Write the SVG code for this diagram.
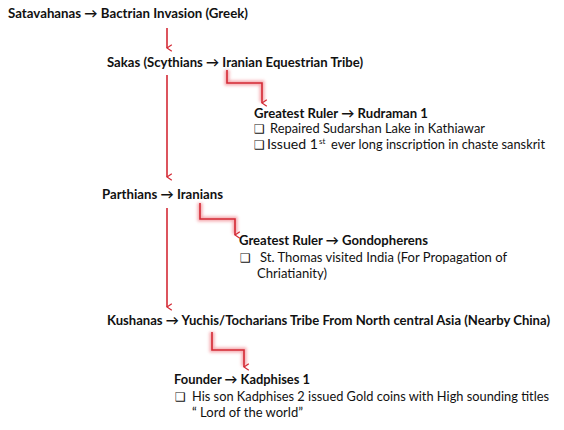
<svg xmlns="http://www.w3.org/2000/svg" width="564" height="430" viewBox="0 0 564 430">
<defs>
<marker id="ah" viewBox="0 0 10 10" refX="5" refY="9" markerWidth="8" markerHeight="8" markerUnits="userSpaceOnUse" orient="auto-start-reverse">
<path d="M1 3 L5 9 L9 3" fill="none" stroke="#d42a35" stroke-width="1.6"/>
</marker>
<filter id="glow" x="-50%" y="-10%" width="200%" height="120%">
<feGaussianBlur stdDeviation="1.5"/>
</filter>
</defs>
<style>
text{font-family:Lato,"Liberation Sans",sans-serif;font-size:13px;fill:#111}
.b{font-weight:bold}
.box{font-family:"DejaVu Sans",sans-serif;font-size:12px}
.sup{font-size:8px}
.glow{fill:none;stroke:#f28f96;stroke-width:5;opacity:0.75;filter:url(#glow)}
.ln{fill:none;stroke:#d42a35;stroke-width:1.6;marker-end:url(#ah)}
</style>
<rect width="564" height="430" fill="#fff"/>
<g id="connectors">
<path class="glow" d="M167 28 V48"/>
<path class="glow" d="M167 75 V176"/>
<path class="glow" d="M167 208 V306"/>
<path class="glow" d="M227 70 V83 H262 V102"/>
<path class="glow" d="M200 203 V219 H235 V234"/>
<path class="glow" d="M212 332 V350 H244 V366"/>
<path class="ln" d="M167 28 V48"/>
<path class="ln" d="M167 75 V177"/>
<path class="ln" d="M167 208 V307"/>
<path class="ln" d="M227 70 V83 H262 V103"/>
<path class="ln" d="M200 203 V219 H235 V235"/>
<path class="ln" d="M212 332 V350 H244 V367"/>
</g>
<g id="satavahanas">
<text class="b" x="8" y="18" textLength="240" lengthAdjust="spacingAndGlyphs">Satavahanas → Bactrian Invasion (Greek)</text>
</g>
<g id="sakas">
<text class="b" x="107" y="67" textLength="256" lengthAdjust="spacingAndGlyphs">Sakas (Scythians → Iranian Equestrian Tribe)</text>
</g>
<g id="rudraman">
<text class="b" x="254" y="118" textLength="174" lengthAdjust="spacingAndGlyphs">Greatest Ruler → Rudraman 1</text>
<text class="box" x="254" y="133">❑</text>
<text x="270" y="133" textLength="215" lengthAdjust="spacingAndGlyphs">Repaired Sudarshan Lake in Kathiawar</text>
<text class="box" x="254" y="149">❑</text>
<text x="267" y="149" textLength="51" lengthAdjust="spacingAndGlyphs">Issued 1</text>
<text class="sup" x="319" y="144">st</text>
<text x="331" y="149" textLength="214" lengthAdjust="spacingAndGlyphs">ever long inscription in chaste sanskrit</text>
</g>
<g id="parthians">
<text class="b" x="102" y="199" textLength="121" lengthAdjust="spacingAndGlyphs">Parthians → Iranians</text>
</g>
<g id="gondopherens">
<text class="b" x="239" y="245" textLength="189" lengthAdjust="spacingAndGlyphs">Greatest Ruler → Gondopherens</text>
<text class="box" x="240" y="262">❑</text>
<text x="260" y="262" textLength="247" lengthAdjust="spacingAndGlyphs">St. Thomas visited India (For Propagation of</text>
<text x="257" y="278" textLength="70" lengthAdjust="spacingAndGlyphs">Chriatianity)</text>
</g>
<g id="kushanas">
<text class="b" x="107" y="325" textLength="443" lengthAdjust="spacingAndGlyphs">Kushanas → Yuchis/Tocharians Tribe From North central Asia (Nearby China)</text>
</g>
<g id="kadphises">
<text class="b" x="174" y="384" textLength="136" lengthAdjust="spacingAndGlyphs">Founder → Kadphises 1</text>
<text class="box" x="175" y="401">❑</text>
<text x="192" y="401" textLength="357" lengthAdjust="spacingAndGlyphs">His son Kadphises 2 issued Gold coins with High sounding titles</text>
<text x="192" y="417" textLength="111" lengthAdjust="spacingAndGlyphs">“ Lord of the world”</text>
</g>
</svg>
